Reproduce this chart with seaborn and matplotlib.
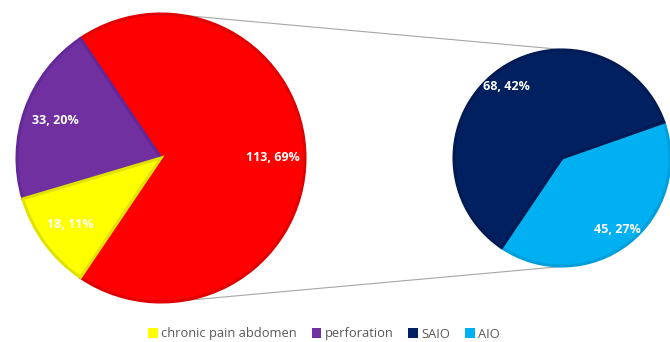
import matplotlib
matplotlib.use('Agg')
import matplotlib.pyplot as plt
import seaborn as sns
import numpy as np
from matplotlib.patches import ConnectionPatch

# main pie: the "other" slice (113) is split out in the small pie
main_labels = ['other', 'perforation', 'chronic pain abdomen']
main_values = [113, 33, 18]
main_pcts = [69, 20, 11]
main_colors = ['#FF0000', '#7030A0', '#FFFF00']
main_edges = ['#E00000', '#63289A', '#E2E200']

# second pie
sub_labels = ['AIO', 'SAIO']
sub_values = [45, 68]
sub_pcts = [27, 42]
sub_colors = ['#00B0F0', '#002060']
sub_edges = ['#009FDB', '#001A55']

legend_order = ['chronic pain abdomen', 'perforation', 'SAIO', 'AIO']

sns.set_theme(style='white')
plt.rcParams['font.family'] = ['Open Sans', 'DejaVu Sans']

fig = plt.figure(figsize=(6.7, 3.42), dpi=100)
W, H = 670, 342
ax1 = fig.add_axes([17 / W, 40 / H, 288 / W, 288 / H])
ax2 = fig.add_axes([454 / W, 76 / H, 216 / W, 216 / H])


def add_labels(ax, wedges, values, pcts, dist):
    for w, v, p in zip(wedges, values, pcts):
        ang = np.deg2rad((w.theta1 + w.theta2) / 2)
        ax.text(dist * np.cos(ang), dist * np.sin(ang), f'{v}, {p}%',
                ha='center', va='center', color='white', fontsize=9,
                fontweight='bold')


w1, _ = ax1.pie(main_values, colors=main_colors, startangle=-124,
                counterclock=True, radius=1,
                wedgeprops=dict(linewidth=2.2))
for w, ec in zip(w1, main_edges):
    w.set_edgecolor(ec)
add_labels(ax1, w1, main_values, main_pcts, 0.78)

w2, _ = ax2.pie(sub_values, colors=sub_colors, startangle=-124,
                counterclock=True, radius=1,
                wedgeprops=dict(linewidth=2.2))
for w, ec in zip(w2, sub_edges):
    w.set_edgecolor(ec)
    w.set_clip_on(False)
add_labels(ax2, w2, sub_values, sub_pcts, 0.84)

for ax in (ax1, ax2):
    ax.set_xlim(-1, 1)
    ax.set_ylim(-1, 1)
    ax.set_aspect('equal')
    ax.axis('off')

# connector lines between the pies
for y in (1, -1):
    con = ConnectionPatch(xyA=(0.05, y), coordsA=ax1.transData,
                          xyB=(0.05, y), coordsB=ax2.transData,
                          color='#A6A6A6', linewidth=0.8, zorder=0)
    fig.add_artist(con)

handles = {'perforation': w1[1], 'chronic pain abdomen': w1[2],
           'AIO': w2[0], 'SAIO': w2[1]}
leg = fig.legend([handles[k] for k in legend_order], legend_order,
                 loc='center', bbox_to_anchor=(324 / W, 1 - 334 / H),
                 ncol=4, frameon=False, fontsize=9.3,
                 handlelength=0.75, handleheight=0.75, handletextpad=0.25,
                 columnspacing=1.15)
for t in leg.get_texts():
    t.set_color('#595959')
for h in leg.legend_handles:
    h.set_linewidth(0)

fig.savefig('out.png', dpi=100)
